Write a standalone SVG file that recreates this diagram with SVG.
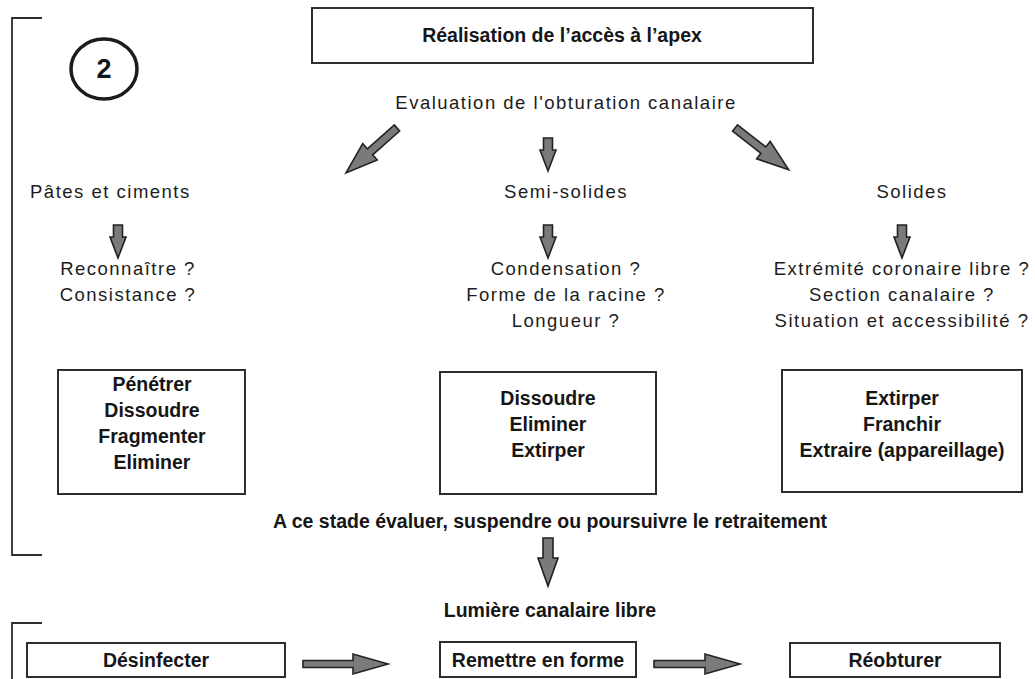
<svg xmlns="http://www.w3.org/2000/svg" width="1035" height="679" viewBox="0 0 1035 679">
<style>
.t{font-family:"Liberation Sans",Arial,sans-serif;font-size:18.5px;letter-spacing:1.5px;fill:#1c1c1c;text-anchor:middle}
.b{font-family:"Liberation Sans",Arial,sans-serif;font-size:19.5px;font-weight:bold;fill:#161616;text-anchor:middle}
.box{fill:#fff;stroke:#2e2e2e;stroke-width:2}
.br{fill:none;stroke:#2e2e2e;stroke-width:1.8}
.ar{fill:#7a7a7a;stroke:#222;stroke-width:1.6;stroke-linejoin:miter}
</style>
<defs>
<path id="diag" d="M0,-4 L36,-4 L36,-11 L68,0 L36,11 L36,4 L0,4 Z"/>
<path id="down" d="M-4.5,0 H4.5 V12 H8 L0,33 L-8,12 H-4.5 Z"/>
</defs>
<rect width="1035" height="679" fill="#fff"/>

<g id="brackets">
<path class="br" d="M42,18 H12 V555 H42"/>
<path class="br" d="M42,623 H12 V679"/>
</g>

<g id="step2">
<ellipse cx="104" cy="69" rx="33" ry="30" fill="none" stroke="#1c1c1c" stroke-width="3.5"/>
<text class="b" x="104" y="78" style="font-size:27px">2</text>
</g>

<g id="top">
<rect class="box" x="312" y="8" width="501" height="55"/>
<text class="b" x="562" y="42">Réalisation de l’accès à l’apex</text>
</g>

<g id="evaluation"><text class="t" x="566" y="109">Evaluation de l'obturation canalaire</text></g>

<g id="pates">
<text class="t" x="30" y="198" style="text-anchor:start">Pâtes et ciments</text>
<text class="t" x="128" y="275">Reconnaître ?</text>
<text class="t" x="128" y="301">Consistance ?</text>
</g>
<g id="semi">
<text class="t" x="566" y="198">Semi-solides</text>
<text class="t" x="566" y="275">Condensation ?</text>
<text class="t" x="566" y="301">Forme de la racine ?</text>
<text class="t" x="566" y="327">Longueur ?</text>
</g>
<g id="solides">
<text class="t" x="912" y="198">Solides</text>
<text class="t" x="902" y="275">Extrémité coronaire libre ?</text>
<text class="t" x="902" y="301">Section canalaire ?</text>
<text class="t" x="902" y="327">Situation et accessibilité ?</text>
</g>

<g id="box1">
<rect class="box" x="58" y="370" width="187" height="124"/>
<text class="b" x="152" y="391">Pénétrer</text>
<text class="b" x="152" y="417">Dissoudre</text>
<text class="b" x="152" y="443">Fragmenter</text>
<text class="b" x="152" y="469">Eliminer</text>
</g>
<g id="box2">
<rect class="box" x="440" y="372" width="216" height="122"/>
<text class="b" x="548" y="405">Dissoudre</text>
<text class="b" x="548" y="431">Eliminer</text>
<text class="b" x="548" y="457">Extirper</text>
</g>
<g id="box3">
<rect class="box" x="782" y="370" width="240" height="122"/>
<text class="b" x="902" y="405">Extirper</text>
<text class="b" x="902" y="431">Franchir</text>
<text class="b" x="902" y="457">Extraire (appareillage)</text>
</g>

<g id="decision"><text class="b" x="550" y="528">A ce stade évaluer, suspendre ou poursuivre le retraitement</text></g>
<g id="lumiere"><text class="b" x="550" y="617">Lumière canalaire libre</text></g>

<g id="desinfecter">
<rect class="box" x="27" y="643" width="258" height="34"/>
<text class="b" x="156" y="667">Désinfecter</text>
</g>
<g id="remettre">
<rect class="box" x="440" y="642" width="196" height="35"/>
<text class="b" x="538" y="667">Remettre en forme</text>
</g>
<g id="reobturer">
<rect class="box" x="790" y="643" width="210" height="34"/>
<text class="b" x="895" y="667">Réobturer</text>
</g>

<g id="connectors">
<use href="#diag" class="ar" transform="translate(397,128) rotate(138.6)"/>
<use href="#down" class="ar" transform="translate(548,138)"/>
<use href="#diag" class="ar" transform="translate(735,128) rotate(37.9)"/>
<use href="#down" class="ar" transform="translate(118,225)"/>
<use href="#down" class="ar" transform="translate(548,225)"/>
<use href="#down" class="ar" transform="translate(902,225)"/>
<path class="ar" d="M543,538 H553 V558 H558 L548,586 L538,558 H543 Z"/>
<path class="ar" d="M303,660.5 H353 V654 L388,664 L353,674 V667.5 H303 Z"/>
<path class="ar" d="M654,660.5 H705 V654 L740,664 L705,674 V667.5 H654 Z"/>
</g>
</svg>
